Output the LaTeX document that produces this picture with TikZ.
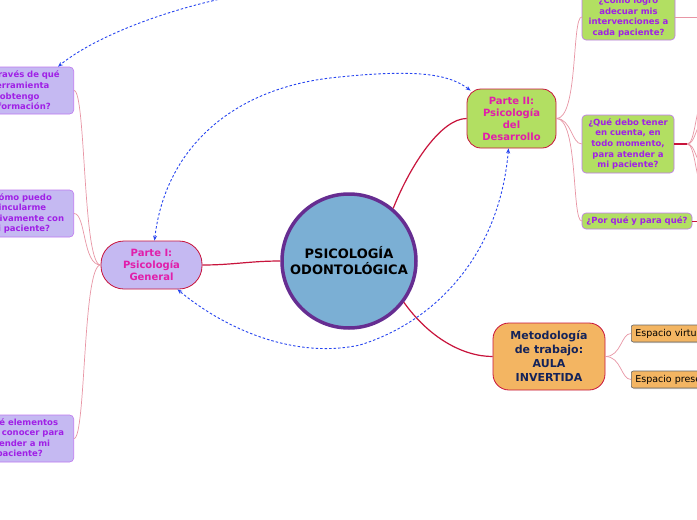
\documentclass[tikz,border=0pt]{standalone}
\usepackage{fontspec}
\setmainfont{DejaVu Sans}
\usetikzlibrary{shadows,arrows.meta}
\definecolor{crim}{RGB}{200,20,60}
\definecolor{pinkline}{RGB}{232,150,165}
\definecolor{dblue}{RGB}{40,70,240}
\definecolor{circfill}{RGB}{123,175,212}
\definecolor{circborder}{RGB}{102,45,145}
\definecolor{lav}{RGB}{197,185,242}
\definecolor{lavborder}{RGB}{190,120,240}
\definecolor{violettext}{RGB}{160,32,230}
\definecolor{magtext}{RGB}{225,30,170}
\definecolor{greenfill}{RGB}{178,223,98}
\definecolor{orangefill}{RGB}{243,181,98}
\definecolor{navytext}{RGB}{20,35,90}
\tikzset{
  mainnode/.style={circle, draw=circborder, line width=3.5pt, fill=circfill, minimum size=134pt,
    font=\bfseries\fontsize{13}{16}\selectfont, align=center, inner sep=0pt},
  partebox/.style={draw=crim, line width=0.8pt, align=center, text=magtext,
    font=\bfseries\fontsize{10}{12}\selectfont, inner sep=0pt},
  leftq/.style={draw=lavborder, fill=lav, rounded corners=4pt, text=violettext, line width=0.6pt,
    font=\bfseries\fontsize{8.5}{10.6}\selectfont, align=center, text width=100pt,
    inner xsep=4pt, inner ysep=2pt, anchor=east, minimum height=47pt},
  rightq/.style={draw=lavborder, fill=greenfill, rounded corners=4pt, text=violettext, line width=0.6pt,
    font=\bfseries\fontsize{8.5}{10.6}\selectfont, align=center, inner xsep=3pt, inner ysep=2pt},
  espacio/.style={draw=black!60, fill=orangefill, rounded corners=2pt, line width=0.6pt,
    font=\fontsize{9.5}{11}\selectfont, anchor=west, minimum height=17pt, inner xsep=4pt, inner ysep=0pt,
    drop shadow={shadow xshift=1pt, shadow yshift=-1pt, opacity=0.35}},
  crimline/.style={draw=crim, line width=1.2pt},
  pinkl/.style={draw=pinkline, line width=0.7pt},
  rel/.style={draw=dblue, dash pattern=on 2.5pt off 2pt, line width=0.9pt},
}
\begin{document}
\begin{tikzpicture}[x=1pt,y=-1pt]
\useasboundingbox (0,0) rectangle (697,520);
\fill[white] (0,0) rectangle (697,520);
\clip (0,0) rectangle (697,520);

% main nodes
\node[mainnode] (main) at (349,261) {PSICOLOGÍA\\ODONTOLÓGICA};
\node[partebox, fill=lav, minimum width=101pt, minimum height=48pt, rounded corners=23pt] (p1) at (151.5,265) {Parte I:\\Psicología\\General};
\node[partebox, fill=greenfill, minimum width=89pt, minimum height=59pt, rounded corners=14pt] (p2) at (511.5,118.5) {Parte II:\\Psicología\\del\\Desarrollo};
\node[partebox, fill=orangefill, text=navytext, minimum width=112pt, minimum height=67pt, rounded corners=16pt,
  font=\bfseries\fontsize{11}{14}\selectfont] (meto) at (549,356.5) {Metodología\\de trabajo:\\AULA\\INVERTIDA};

% left questions
\node[leftq] (qa) at (74,90.5) {¿A través de qué\\herramienta\\obtengo\\información?};
\node[leftq] (qb) at (74,213.5) {¿Cómo puedo\\vincularme\\afectivamente con\\mi paciente?};
\node[leftq] (qc) at (74,438.5) {¿Qué elementos\\debo conocer para\\atender a mi\\paciente?};

% right questions
\node[rightq, minimum width=93pt, minimum height=46pt] (r1) at (628.5,17) {¿Cómo logro\\adecuar mis\\intervenciones a\\cada paciente?};
\node[rightq, minimum width=92pt, minimum height=58pt] (r2) at (628,144) {¿Qué debo tener\\en cuenta, en\\todo momento,\\para atender a\\mi paciente?};
\node[rightq, minimum width=110pt, minimum height=16pt] (r3) at (637,221) {¿Por qué y para qué?};

% espacios
\node[espacio] (e1) at (631,333.5) {Espacio virtual};
\node[espacio] (e2) at (631,379.5) {Espacio presencial};

% free ends
\coordinate (topsrc) at (240,-5);
\coordinate (r1out) at (702,17);
\coordinate (r3out) at (702,221);
\coordinate (b1) at (702,104);
\coordinate (b2) at (702,124);
\coordinate (b3) at (702,163);
\coordinate (b4) at (702,184);

% crimson connectors
\draw[crimline] (main.west) to[out=180,in=0] (p1.east);
\draw[crimline] (main.50) .. controls +(18,-45) and +(-25,0) .. (p2.west);
\draw[crimline] (main.-37) .. controls +(25,35) and +(-30,0) .. (meto.west);

% pink connectors
\draw[pinkl] (p1.west) .. controls +(-18,0) and +(12,0) .. (qa.east);
\draw[pinkl] (p1.west) .. controls +(-18,0) and +(12,0) .. (qb.east);
\draw[pinkl] (p1.west) .. controls +(-18,0) and +(12,0) .. (qc.east);
\draw[pinkl] (p2.east) .. controls +(22,0) and +(-10,0) .. (r1.west);
\draw[pinkl] (p2.east) .. controls +(15,0) and +(-10,0) .. (r2.west);
\draw[pinkl] (p2.east) .. controls +(22,0) and +(-10,0) .. (r3.west);
\draw[pinkl] (meto.east) .. controls +(16,0) and +(-10,0) .. (e1.west);
\draw[pinkl] (meto.east) .. controls +(16,0) and +(-10,0) .. (e2.west);
\draw[pinkl] (r1.east) -- (r1out);
\draw[crimline, line width=0.9pt] (r3.east) -- (r3out);
\draw[crimline] (r2.east) -- ++(13,0) coordinate (r2j);
\foreach \b in {b1,b2,b3,b4}{\draw[pinkl] (r2j) .. controls +(8,0) and +(-6,0) .. (\b);}

% dashed relations
\draw[rel, {Stealth[length=5pt,width=4pt]}-{Stealth[length=5pt,width=4pt]}]
  ([xshift=3pt]p1.north) .. controls (165,150) and (230,90) .. (330,78)
  .. controls (420,68) and (450,75) .. ([xshift=4pt,yshift=-2pt]p2.north west);
\draw[rel, {Stealth[length=5pt,width=4pt]}-{Stealth[length=5pt,width=4pt]}]
  ([xshift=-3pt]p2.south) .. controls (500,250) and (440,320) .. (360,345)
  .. controls (290,360) and (220,325) .. ([xshift=26pt]p1.south);
\draw[rel, -{Stealth[length=5pt,width=4pt]}]
  (topsrc) .. controls (160,10) and (90,40) .. ([xshift=-16pt]qa.north east);
\end{tikzpicture}
\end{document}
